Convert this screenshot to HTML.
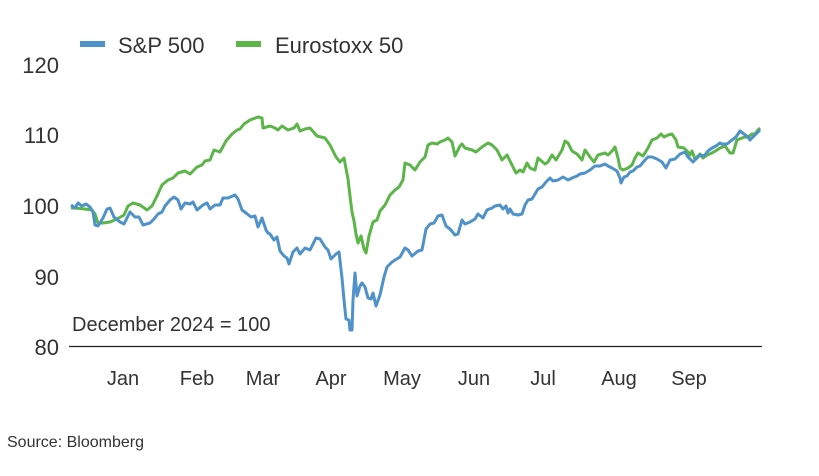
<!DOCTYPE html>
<html><head><meta charset="utf-8"><style>
body{margin:0;background:#fff;width:819px;height:471px;overflow:hidden;font-family:"Liberation Sans",sans-serif;}
</style></head><body>
<svg width="819" height="471" xmlns="http://www.w3.org/2000/svg" font-family="Liberation Sans, sans-serif" fill="#333">
<g font-size="22" text-anchor="end">
<text x="59" y="73">120</text><text x="59" y="143">110</text><text x="59" y="214">100</text><text x="59" y="285">90</text><text x="59" y="355">80</text>
</g>
<line x1="69" y1="346.5" x2="762" y2="346.5" stroke="#222" stroke-width="1.3"/>
<g font-size="20" text-anchor="middle">
<text x="123" y="385">Jan</text><text x="197" y="385">Feb</text><text x="263" y="385">Mar</text><text x="331" y="385">Apr</text><text x="402" y="385">May</text><text x="474" y="385">Jun</text><text x="543" y="385">Jul</text><text x="619" y="385">Aug</text><text x="689" y="385">Sep</text>
</g>
<text x="72" y="331" font-size="20">December 2024 = 100</text>
<text x="7" y="447" font-size="16">Source: Bloomberg</text>
<rect x="80" y="41" width="25" height="6" fill="#4f91c9"/>
<text x="118" y="53" font-size="22">S&amp;P 500</text>
<rect x="236" y="41" width="25" height="6" fill="#5bb548"/>
<text x="275" y="53" font-size="22">Eurostoxx 50</text>
<polyline fill="none" stroke="#5bb548" stroke-width="3" stroke-linejoin="round" points="71,208 75,208 85,209 92,210 95,214 98,223 103,223 110,222 117,219 124,215 128,206 133,203 140,205 147,210 152,206 157,196 162,185 168,180 173,178 178,173 185,171 190,174 197,167 202,165 205,161 210,160 214,150 220,152 226,141 232,134 237,130 240,129 244,124 250,120 258,117 262,118 263,128 270,126 275,128 278,130 282,126 288,130 294,128 297,124 300,131 305,129 310,128 317,136 325,138 330,145 336,157 340,162 344,158 348,179 350,196 352,212 354,221 356,234 358,243 361,236 364,249 366,253 369,236 373,222 377,220 380,211 385,205 390,195 395,190 399,187 403,180 405,163 410,165 415,170 420,162 425,157 428,145 432,143 437,144 440,142 445,140 448,138 452,142 455,156 460,146 462,144 465,148 472,150 476,152 482,147 488,143 492,145 497,150 502,160 507,155 512,165 516,173 520,170 523,172 527,163 530,168 535,170 538,158 545,164 548,162 552,155 556,160 562,150 565,141 568,143 572,151 577,154 582,160 585,150 590,157 594,162 598,155 605,153 608,155 613,150 615,147 618,158 620,168 623,170 628,168 632,165 635,158 638,153 643,156 648,148 652,140 657,138 661,134 664,137 668,135 672,134 676,140 678,147 684,148 688,152 690,155 692,151 695,159 700,154 703,158 707,155 712,153 717,150 720,148 725,146 730,153 733,153 737,140 742,138 745,137 748,137 752,134 755,134 758,130 760,128"/>
<polyline fill="none" stroke="#4f91c9" stroke-width="3" stroke-linejoin="round" points="71,205 75,208 78,203 82,206 86,204 90,207 93,212 95,225 98,226 103,218 107,209 110,208 114,217 120,222 124,224 127,218 130,212 135,217 139,217 143,225 150,223 154,219 158,214 162,212 165,206 170,200 174,197 178,200 181,209 185,203 190,204 193,202 197,210 203,205 207,203 210,209 215,205 220,205 223,198 228,198 235,195 238,199 242,210 246,213 251,217 255,216 258,227 262,218 266,230 268,233 270,234 274,240 277,237 280,251 284,256 287,258 289,264 293,252 297,248 300,254 305,248 310,250 313,244 316,238 320,239 325,247 328,250 331,259 336,254 339,252 342,278 344,300 346,319 349,320 350,330 352,330 353,300 355,273 357,296 360,286 362,283 365,287 368,298 371,299 373,293 376,306 380,295 384,277 387,267 392,262 395,260 400,257 405,248 408,250 412,256 418,251 422,250 426,229 430,224 434,223 438,216 442,215 446,226 450,229 455,235 458,234 462,220 465,224 470,222 475,219 478,214 483,218 487,210 492,208 495,206 500,205 503,209 506,206 508,213 510,209 513,214 518,215 522,214 525,205 528,200 532,199 535,194 538,189 542,187 546,182 550,178 553,181 558,180 563,177 568,180 572,178 577,176 580,174 585,173 590,170 595,166 600,166 605,164 608,166 612,168 617,171 620,178 621,183 624,177 627,176 630,172 633,171 637,167 640,166 645,160 648,157 652,157 657,159 662,162 666,168 670,160 675,159 680,154 685,152 688,157 693,162 697,158 700,155 704,156 708,151 712,148 716,146 720,143 722,144 727,144 732,140 736,137 740,131 744,134 748,137 750,140 753,137 757,133 760,130"/>
</svg>
</body></html>
